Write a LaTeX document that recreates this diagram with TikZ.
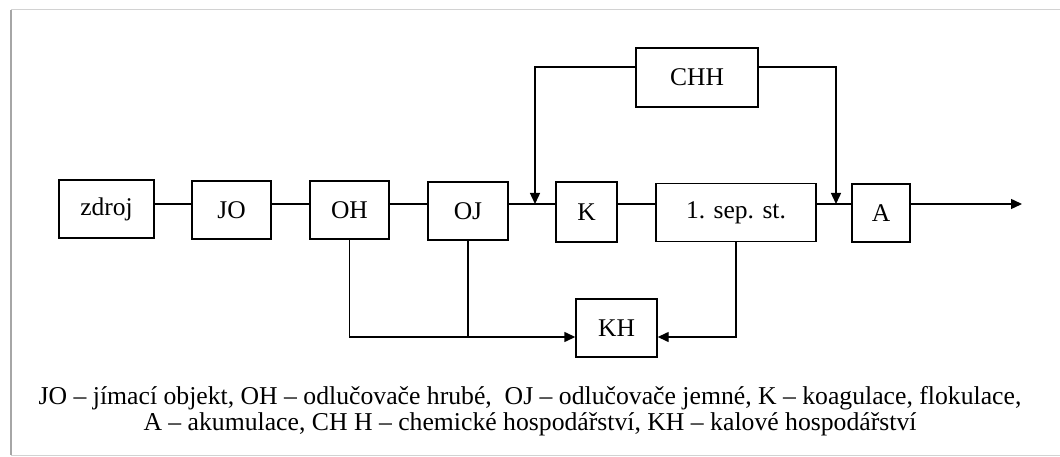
\documentclass[tikz,border=0pt]{standalone}
\usepackage{fontspec}
\setmainfont{Liberation Serif}
\usetikzlibrary{arrows.meta, positioning, calc}

\begin{document}
\begin{tikzpicture}[x=1pt,y=-1pt, line width=1.4pt, every node/.style={font=\fontsize{25.5}{30}\selectfont},
    blok/.style={draw, rectangle, line width=1.4pt, minimum height=58pt, inner sep=0pt},
    tok/.style={-{Triangle[length=11pt,width=10pt]}}]
    \useasboundingbox (0,0) rectangle (1060,457);
    \draw[gray!35, line width=1pt] (11,10) -- (1060,10);
    \draw[gray!35, line width=1pt] (11,455) -- (1060,455);
    \draw[gray!70, line width=2pt] (11,10) -- (11,455);
    % hlavni linka
    \coordinate (row) at (0,204);
    \coordinate (top) at (0,67);
    \coordinate (bot) at (0,337);
    \node[blok, minimum width=95pt] (zdroj) at (106.5,209) {zdroj};
    \node[blok, minimum width=79pt] (jo) at (231.5,210) {JO};
    \node[blok, minimum width=79pt] (oh) at (349.5,210) {OH};
    \node[blok, minimum width=80pt] (oj) at (468,211) {OJ};
    \node[blok, minimum width=61pt, minimum height=60pt] (k) at (586.5,212) {K};
    \node[blok, minimum width=160pt] (sep) at (736,212.5) {1. sep. st.};
    \node[blok, minimum width=58pt] (a) at (881,213) {A};
    \node[blok, minimum width=122pt, minimum height=59pt] (chh) at (697,77.5) {CHH};
    \node[blok, minimum width=81pt] (kh) at (616.5,328) {KH};
    \coordinate (j1) at (535,204);
    \coordinate (j2) at (836,204);
    \coordinate (out) at (1022,204);
    \draw (zdroj.east |- row) -- (jo.west |- row);
    \draw (jo.east |- row) -- (oh.west |- row);
    \draw (oh.east |- row) -- (oj.west |- row);
    \draw (oj.east |- row) -- (k.west |- row);
    \draw (k.east |- row) -- (sep.west |- row);
    \draw (sep.east |- row) -- (a.west |- row);
    \draw[tok] (a.east |- row) -- (out);
    % chemicke hospodarstvi
    \draw[tok] (chh.west |- top) -| (j1);
    \draw[tok] (chh.east |- top) -| (j2);
    % kalove hospodarstvi
    \draw[tok] (oh.south) |- (kh.west |- bot);
    \draw (oj.south) -- (oj.south |- bot);
    \draw[tok] (sep.south) |- (kh.east |- bot);
    \node[align=center, font=\fontsize{25.7}{26}\selectfont] (legenda) at (530,411)
        {JO -- jímací objekt, OH -- odlučovače hrubé,\ \ OJ -- odlučovače jemné, K -- koagulace, flokulace,\\
         A -- akumulace, CH H -- chemické hospodářství, KH -- kalové hospodářství};
\end{tikzpicture}
\end{document}
